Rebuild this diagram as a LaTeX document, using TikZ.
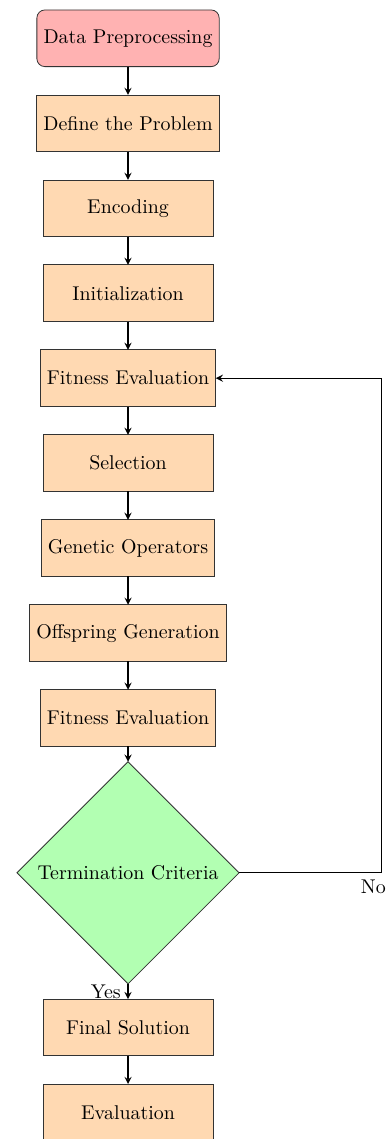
\documentclass[tikz,border=0pt]{standalone}
\usepackage{tikz}
\usetikzlibrary{positioning,shapes.geometric}

\begin{document}
\begin{tikzpicture}[node distance=0.5cm,
	etape/.style={rectangle, draw=black!80, fill=orange!30, minimum width=3cm, minimum height=1cm, outer sep=0pt},
	debut/.style={etape, rounded corners, fill=red!30},
	test/.style={diamond, aspect=1, draw=black!80, fill=green!30, outer sep=0pt},
	fleche/.style={-stealth, semithick}]
					%\draw[help lines] (-3,-20) grid (5,1);
					\useasboundingbox (-2.26,0.676) rectangle (4.64,-19.43);
					
					%ETAPES
					\node[debut] (dataprep) at (0,0) {Data Preprocessing};
					\node[etape, below=of dataprep] (define) {Define the Problem};
					\node[etape, below=of define] (encode) {Encoding};
					\node[etape, below=of encode] (init) {Initialization};
					\node[etape, below=of init] (fit1) {Fitness Evaluation};
					\node[etape, below=of fit1] (select) {Selection};
					\node[etape, below=of select] (genop) {Genetic Operators};
					\node[etape, below=of genop] (offspring) {Offspring Generation};
					\node[etape, below=of offspring] (fit2) {Fitness Evaluation};
					%TEST
					\node[test, below=0.27cm of fit2] (term) {Termination Criteria};
					\node[etape, below=0.27cm of term] (final) {Final Solution};
					\node[etape, below=of final] (evalu) {Evaluation};
					
					%FLECHES
					\draw[fleche] (dataprep) -- (define);
					\draw[fleche] (define) -- (encode);
					\draw[fleche] (encode) -- (init);
					\draw[fleche] (init) -- (fit1);
					\draw[fleche] (fit1) -- (select);
					\draw[fleche] (select) -- (genop);
					\draw[fleche] (genop) -- (offspring);
					\draw[fleche] (offspring) -- (fit2);
					\draw[fleche] (fit2) -- (term);
					\draw[fleche] (term) -- node[left] {Yes} (final);
					\draw[fleche] (final) -- (evalu);
					%BOUCLE
					\coordinate[right=2.51cm of term.east] (coin);
					\draw[fleche] (term.east) -- (coin) node[below, xshift=-4pt] {No} |- (fit1.east);
					
\end{tikzpicture}
\end{document}
